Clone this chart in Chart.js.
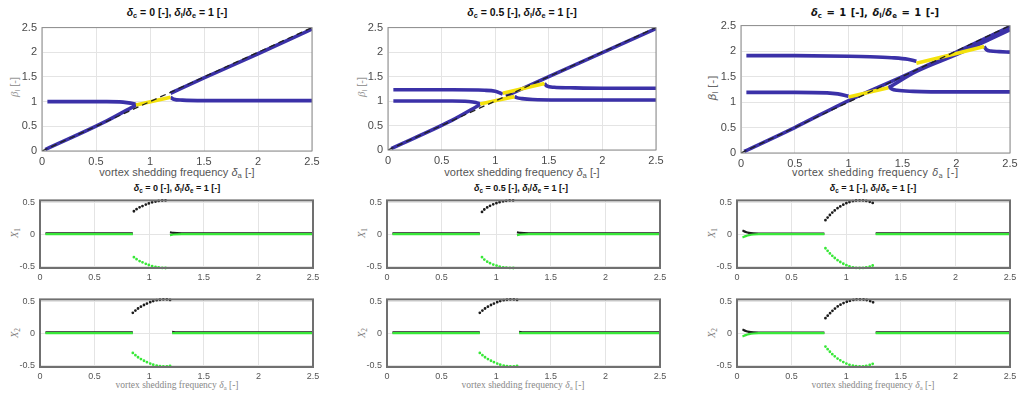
<!DOCTYPE html>
<html>
<head>
<meta charset="utf-8">
<script src="https://cdn.jsdelivr.net/npm/chart.js@4.4.0/dist/chart.umd.min.js"></script>
<style>
body { margin: 0; background: #fff; width: 1024px; height: 393px; position: relative; overflow: hidden; font-family: "Liberation Sans", Arial, sans-serif; }
canvas { position: absolute; }
.t { position: absolute; transform: translate(-50%, -50%); white-space: nowrap; }
.title { font-weight: bold; font-size: 10.5px; color: #111; }
.title2 { font-weight: bold; font-size: 9px; color: #111; }
.xlab { font-size: 11px; color: #555; }
.xlab2 { font-family: "Liberation Serif", serif; font-size: 9.5px; color: #888; }
.ylab { font-size: 11px; color: #999; transform: translate(-50%, -50%) rotate(-90deg); }
.ylab2 { font-family: "Liberation Serif", serif; font-size: 10.5px; color: #777; transform: translate(-50%, -50%) rotate(-90deg); }
sub { font-size: 70%; vertical-align: -0.3em; line-height: 0; }
</style>
</head>
<body>

<div class="t title" style="left:177px;top:12px"><i>δ</i><sub>c</sub> = 0 [-], <i>δ</i><sub>l</sub>/<i>δ</i><sub>e</sub> = 1 [-]</div>
<div class="t title" style="left:522px;top:12px"><i>δ</i><sub>c</sub> = 0.5 [-], <i>δ</i><sub>l</sub>/<i>δ</i><sub>e</sub> = 1 [-]</div>
<div class="t title" style="left:875px;top:12px;font-family:'DejaVu Sans';font-size:10px;word-spacing:1px"><i>δ</i><sub>c</sub> = 1 [-], <i>δ</i><sub>l</sub>/<i>δ</i><sub>e</sub> = 1 [-]</div>

<div class="t xlab" style="left:177px;top:172px">vortex shedding frequency <i>δ</i><sub>a</sub> [-]</div>
<div class="t xlab" style="left:522px;top:172px">vortex shedding frequency <i>δ</i><sub>a</sub> [-]</div>
<div class="t xlab" style="left:875px;top:172px;font-family:'DejaVu Sans';font-size:10px;word-spacing:1px">vortex shedding frequency <i>δ</i><sub>a</sub> [-]</div>

<div class="t ylab" style="left:14px;top:87px"><i style="font-family:'Liberation Serif'">β</i><sub>l</sub> [-]</div>
<div class="t ylab" style="left:361px;top:87px"><i style="font-family:'Liberation Serif'">β</i><sub>l</sub> [-]</div>
<div class="t ylab" style="left:712px;top:88px;color:#666;font-family:'DejaVu Sans'"><i>β</i><sub>l</sub> [-]</div>

<div class="t title2" style="left:177px;top:188px"><i>δ</i><sub>c</sub> = 0 [-], <i>δ</i><sub>l</sub>/<i>δ</i><sub>e</sub> = 1 [-]</div>
<div class="t title2" style="left:521px;top:188px"><i>δ</i><sub>c</sub> = 0.5 [-], <i>δ</i><sub>l</sub>/<i>δ</i><sub>e</sub> = 1 [-]</div>
<div class="t title2" style="left:873px;top:188px"><i>δ</i><sub>c</sub> = 1 [-], <i>δ</i><sub>l</sub>/<i>δ</i><sub>e</sub> = 1 [-]</div>

<div class="t ylab2" style="left:14px;top:233px"><i>X</i><sub>1</sub></div>
<div class="t ylab2" style="left:14px;top:333px"><i>X</i><sub>2</sub></div>
<div class="t ylab2" style="left:361px;top:233px"><i>X</i><sub>1</sub></div>
<div class="t ylab2" style="left:361px;top:333px"><i>X</i><sub>2</sub></div>
<div class="t ylab2" style="left:711px;top:233px"><i>X</i><sub>1</sub></div>
<div class="t ylab2" style="left:711px;top:333px"><i>X</i><sub>2</sub></div>

<div class="t xlab2" style="left:177px;top:385px">vortex shedding frequency <i>δ</i><sub>a</sub> [-]</div>
<div class="t xlab2" style="left:523px;top:385px">vortex shedding frequency <i>δ</i><sub>a</sub> [-]</div>
<div class="t xlab2" style="left:873px;top:385px">vortex shedding frequency <i>δ</i><sub>a</sub> [-]</div>

<script>
// tick values
const xTicks = [0, 0.5, 1, 1.5, 2, 2.5];
const betaTicks = [0, 0.5, 1, 1.5, 2, 2.5];
const ampTicks = [-0.5, 0, 0.5];

// reference line beta = delta_a (dashed)
const idealX = [0, 2.5];
const idealY = [0, 2.5];

// ---- delta_c = 0 : frequency branches
const c0DiagLowX = [0.03, 0.6, 0.87];
const c0DiagLowY = [0.03, 0.61, 0.93];
const c0FlatLX = [0.05, 0.6, 0.75, 0.82, 0.86, 0.87];
const c0FlatLY = [1.0, 1.0, 0.99, 0.97, 0.95, 0.93];
const c0LockX = [0.87, 1.19];
const c0LockY = [0.93, 1.09];
const c0DiagHiX = [1.19, 1.5, 2.0, 2.5];
const c0DiagHiY = [1.17, 1.48, 1.97, 2.47];
const c0FlatRX = [1.19, 1.22, 1.3, 1.5, 2.0, 2.5];
const c0FlatRY = [1.09, 1.05, 1.03, 1.02, 1.02, 1.02];

// ---- delta_c = 0.5
const c5DiagLowX = [0.03, 0.6, 0.86];
const c5DiagLowY = [0.03, 0.61, 0.93];
const c5FlatAX = [0.05, 0.6, 0.75, 0.82, 0.86];
const c5FlatAY = [1.0, 1.0, 0.99, 0.97, 0.94];
const c5FlatBX = [0.05, 0.6, 0.9, 1.0, 1.04, 1.07];
const c5FlatBY = [1.23, 1.23, 1.22, 1.2, 1.17, 1.14];
const c5LockAX = [0.86, 1.18];
const c5LockAY = [0.94, 1.09];
const c5LockBX = [1.07, 1.46];
const c5LockBY = [1.16, 1.36];
const c5DiagHiX = [1.1, 1.5, 2.0, 2.5];
const c5DiagHiY = [1.1, 1.5, 1.99, 2.48];
const c5LowRX = [1.18, 1.2, 1.25, 1.35, 1.6, 2.5];
const c5LowRY = [1.09, 1.07, 1.05, 1.03, 1.02, 1.02];
const c5HiRX = [1.46, 1.48, 1.55, 1.7, 2.0, 2.5];
const c5HiRY = [1.36, 1.31, 1.28, 1.27, 1.26, 1.26];

// ---- delta_c = 1
const c1DiagX = [0.03, 0.5, 1.0, 1.5, 2.0, 2.5];
const c1DiagY = [0.03, 0.5, 1.03, 1.5, 1.98, 2.48];
const c1Diag2X = [1.37, 1.63, 2.0, 2.3, 2.5];
const c1Diag2Y = [1.28, 1.6, 1.93, 2.22, 2.42];
const c1LowLX = [0.05, 0.5, 0.8, 0.9, 0.97, 1.0];
const c1LowLY = [1.19, 1.19, 1.18, 1.16, 1.13, 1.11];
const c1Lock1X = [1.0, 1.37];
const c1Lock1Y = [1.1, 1.28];
const c1LowRX = [1.37, 1.4, 1.45, 1.6, 2.0, 2.5];
const c1LowRY = [1.31, 1.26, 1.23, 1.21, 1.2, 1.2];
const c1HiLX = [0.05, 0.5, 1.0, 1.2, 1.4, 1.55, 1.63];
const c1HiLY = [1.91, 1.91, 1.9, 1.89, 1.87, 1.84, 1.8];
const c1Lock2X = [1.63, 2.26];
const c1Lock2Y = [1.76, 2.09];
const c1HiRX = [2.26, 2.28, 2.32, 2.4, 2.5];
const c1HiRY = [2.09, 2.03, 2.0, 1.99, 1.98];

// ---- amplitudes, delta_c = 0
const a0LeftX = [0.05, 0.85];
const a0LeftBlack = [0.012, 0.012];
const a0LeftGreen = [0.0, 0.0];
const a0X1ArcX = [0.86, 0.9, 0.95, 1.0, 1.05, 1.1, 1.15, 1.18];
const a0X1ArcBlack = [0.36, 0.41, 0.45, 0.485, 0.51, 0.525, 0.53, 0.525];
const a0X1ArcGreen = [-0.36, -0.41, -0.45, -0.485, -0.51, -0.525, -0.53, -0.525];
const a0X1RightX = [1.19, 1.22, 1.3, 2.5];
const a0X1RightBlack = [0.03, 0.02, 0.014, 0.012];
const a0X1RightGreen = [-0.015, -0.005, 0.0, 0.0];
const a0X2ArcX = [0.85, 0.9, 0.95, 1.0, 1.05, 1.1, 1.15, 1.2];
const a0X2ArcBlack = [0.32, 0.39, 0.44, 0.48, 0.51, 0.525, 0.53, 0.52];
const a0X2ArcGreen = [-0.31, -0.38, -0.43, -0.47, -0.5, -0.515, -0.52, -0.51];
const a0X2RightX = [1.21, 1.25, 2.5];
const a0X2RightBlack = [0.02, 0.014, 0.012];
const a0X2RightGreen = [0.0, 0.0, 0.0];

// ---- amplitudes, delta_c = 0.5
const a5X1ArcX = [0.87, 0.9, 0.95, 1.0, 1.05, 1.1, 1.15, 1.18];
const a5X1ArcBlack = [0.35, 0.4, 0.45, 0.485, 0.51, 0.525, 0.53, 0.525];
const a5X1ArcGreen = [-0.36, -0.41, -0.46, -0.49, -0.515, -0.525, -0.53, -0.525];

// ---- amplitudes, delta_c = 1
const a1LeftX = [0.05, 0.08, 0.11, 0.15, 0.2, 0.8];
const a1LeftBlack = [0.06, 0.035, 0.02, 0.012, 0.01, 0.01];
const a1LeftGreen = [-0.05, -0.03, -0.015, -0.005, 0.0, 0.0];
const a1ArcX = [0.81, 0.85, 0.9, 0.95, 1.0, 1.05, 1.1, 1.15, 1.2, 1.26];
const a1X1ArcBlack = [0.22, 0.3, 0.38, 0.44, 0.485, 0.515, 0.53, 0.53, 0.515, 0.48];
const a1X1ArcGreen = [-0.22, -0.3, -0.38, -0.44, -0.485, -0.515, -0.53, -0.53, -0.515, -0.48];
const a1X2ArcBlack = [0.235, 0.31, 0.39, 0.45, 0.49, 0.515, 0.53, 0.53, 0.515, 0.475];
const a1X2ArcGreen = [-0.21, -0.29, -0.37, -0.43, -0.475, -0.505, -0.52, -0.52, -0.505, -0.47];
const a1RightX = [1.27, 2.5];
const a1RightBlack = [0.012, 0.012];
const a1RightGreen = [0.0, 0.0];

const BLUE = '#3b31a8';
const YELLOW = '#f4e20c';
const GREEN = '#38e838';
const BLACK = '#1c1c1c';

function pts(xs, ys) {
    return xs.map((x, i) => ({ x: x, y: ys[i] }))
}

function branch(xs, ys, color) {
    return { data: pts(xs, ys), borderColor: color, borderWidth: 3.6, pointRadius: 0,
             showLine: true, cubicInterpolationMode: 'monotone' }
}

function ideal() {
    return { data: pts(idealX, idealY), borderColor: '#222', borderWidth: 1.3,
             borderDash: [6, 4], pointRadius: 0, showLine: true }
}

function flat(xs, ys, color) {
    return { data: pts(xs, ys), borderColor: color, borderWidth: 2.2, pointRadius: 0,
             showLine: true, cubicInterpolationMode: 'monotone' }
}

function dots(xs, ys, color) {
    return { data: pts(xs, ys), borderColor: color, borderWidth: 2.8, pointRadius: 0,
             showLine: true, borderDash: [0, 3.4], borderCapStyle: 'round', tension: 0.4, clip: 4 }
}

// draws the full box around the plot area
const frame = {
    id: 'frame',
    afterDatasetsDraw(chart, args, opts) {
        const a = chart.chartArea
        const ctx = chart.ctx
        ctx.save()
        ctx.strokeStyle = opts.color
        ctx.lineWidth = opts.width
        ctx.strokeRect(a.left, a.top, a.right - a.left, a.bottom - a.top)
        ctx.restore()
    }
}

function panel(rect, datasets, y, small) {
    const AXW = 30, PADT = 8, PADR = 12
    const AXH = small ? 18 : 20
    const c = document.createElement('canvas')
    const w = rect.r - rect.l + AXW + PADR
    const h = rect.b - rect.t + PADT + AXH
    c.width = w
    c.height = h
    c.style.left = (rect.l - AXW) + 'px'
    c.style.top = (rect.t - PADT) + 'px'
    c.style.width = w + 'px'
    c.style.height = h + 'px'
    document.body.appendChild(c)
    const fs = small ? 9 : 11
    const tickColor = small ? '#555' : '#4a4a4a'
    const fmt = v => String(v)
    new Chart(c.getContext('2d'), {
        type: 'scatter',
        data: { datasets: datasets },
        plugins: [frame],
        options: {
            responsive: false,
            animation: false,
            devicePixelRatio: 1,
            layout: { padding: { top: PADT, right: PADR, left: 0, bottom: 0 } },
            plugins: {
                legend: { display: false },
                tooltip: { enabled: false },
                frame: { color: small ? '#707070' : '#8a8a8a', width: small ? 2 : 1 }
            },
            scales: {
                x: {
                    type: 'linear', min: 0, max: 2.5,
                    afterBuildTicks: s => { s.ticks = xTicks.map(v => ({ value: v })) },
                    afterFit: s => { s.height = AXH },
                    grid: { color: '#e4e4e4', drawTicks: false },
                    border: { display: false },
                    ticks: { color: tickColor, font: { size: fs, family: 'Liberation Sans' }, padding: 4, maxRotation: 0, callback: fmt }
                },
                y: {
                    type: 'linear', min: y.min, max: y.max,
                    afterBuildTicks: s => { s.ticks = y.ticks.map(v => ({ value: v })) },
                    afterFit: s => { s.width = AXW },
                    grid: { color: '#e4e4e4', drawTicks: false },
                    border: { display: false },
                    ticks: { color: tickColor, font: { size: fs, family: 'Liberation Sans' }, padding: 5, callback: fmt }
                }
            }
        }
    })
}

const betaAxis = { min: 0, max: 2.5, ticks: betaTicks }
const ampAxis = { min: -0.53, max: 0.53, ticks: ampTicks }

// top row: locked frequencies
panel({ l: 42, t: 24, r: 312, b: 151 }, [
    ideal(),
    branch(c0LockX, c0LockY, YELLOW),
    branch(c0DiagLowX, c0DiagLowY, BLUE),
    branch(c0FlatLX, c0FlatLY, BLUE),
    branch(c0DiagHiX, c0DiagHiY, BLUE),
    branch(c0FlatRX, c0FlatRY, BLUE)
], betaAxis, false)

panel({ l: 388, t: 24, r: 656, b: 150 }, [
    ideal(),
    branch(c5LockAX, c5LockAY, YELLOW),
    branch(c5LockBX, c5LockBY, YELLOW),
    branch(c5DiagLowX, c5DiagLowY, BLUE),
    branch(c5FlatAX, c5FlatAY, BLUE),
    branch(c5FlatBX, c5FlatBY, BLUE),
    branch(c5DiagHiX, c5DiagHiY, BLUE),
    branch(c5LowRX, c5LowRY, BLUE),
    branch(c5HiRX, c5HiRY, BLUE)
], betaAxis, false)

panel({ l: 741, t: 22, r: 1010, b: 153 }, [
    ideal(),
    branch(c1Lock1X, c1Lock1Y, YELLOW),
    branch(c1Lock2X, c1Lock2Y, YELLOW),
    branch(c1DiagX, c1DiagY, BLUE),
    branch(c1Diag2X, c1Diag2Y, BLUE),
    branch(c1LowLX, c1LowLY, BLUE),
    branch(c1LowRX, c1LowRY, BLUE),
    branch(c1HiLX, c1HiLY, BLUE),
    branch(c1HiRX, c1HiRY, BLUE)
], betaAxis, false)

// amplitude panels
panel({ l: 40, t: 198, r: 313, b: 268 }, [
    flat(a0LeftX, a0LeftGreen, GREEN),
    flat(a0X1RightX, a0X1RightGreen, GREEN),
    dots(a0X1ArcX, a0X1ArcGreen, GREEN),
    flat(a0LeftX, a0LeftBlack, BLACK),
    flat(a0X1RightX, a0X1RightBlack, BLACK),
    dots(a0X1ArcX, a0X1ArcBlack, BLACK)
], ampAxis, true)

panel({ l: 40, t: 297, r: 313, b: 367 }, [
    flat(a0LeftX, a0LeftGreen, GREEN),
    flat(a0X2RightX, a0X2RightGreen, GREEN),
    dots(a0X2ArcX, a0X2ArcGreen, GREEN),
    flat(a0LeftX, a0LeftBlack, BLACK),
    flat(a0X2RightX, a0X2RightBlack, BLACK),
    dots(a0X2ArcX, a0X2ArcBlack, BLACK)
], ampAxis, true)

panel({ l: 387, t: 198, r: 660, b: 268 }, [
    flat(a0LeftX, a0LeftGreen, GREEN),
    flat(a0X1RightX, a0X1RightGreen, GREEN),
    dots(a5X1ArcX, a5X1ArcGreen, GREEN),
    flat(a0LeftX, a0LeftBlack, BLACK),
    flat(a0X1RightX, a0X1RightBlack, BLACK),
    dots(a5X1ArcX, a5X1ArcBlack, BLACK)
], ampAxis, true)

panel({ l: 387, t: 297, r: 660, b: 367 }, [
    flat(a0LeftX, a0LeftGreen, GREEN),
    flat(a0X2RightX, a0X2RightGreen, GREEN),
    dots(a0X2ArcX, a0X2ArcGreen, GREEN),
    flat(a0LeftX, a0LeftBlack, BLACK),
    flat(a0X2RightX, a0X2RightBlack, BLACK),
    dots(a0X2ArcX, a0X2ArcBlack, BLACK)
], ampAxis, true)

panel({ l: 737, t: 198, r: 1010, b: 268 }, [
    flat(a1LeftX, a1LeftGreen, GREEN),
    flat(a1RightX, a1RightGreen, GREEN),
    dots(a1ArcX, a1X1ArcGreen, GREEN),
    flat(a1LeftX, a1LeftBlack, BLACK),
    flat(a1RightX, a1RightBlack, BLACK),
    dots(a1ArcX, a1X1ArcBlack, BLACK)
], ampAxis, true)

panel({ l: 737, t: 297, r: 1010, b: 367 }, [
    flat(a1LeftX, a1LeftGreen, GREEN),
    flat(a1RightX, a1RightGreen, GREEN),
    dots(a1ArcX, a1X2ArcGreen, GREEN),
    flat(a1LeftX, a1LeftBlack, BLACK),
    flat(a1RightX, a1RightBlack, BLACK),
    dots(a1ArcX, a1X2ArcBlack, BLACK)
], ampAxis, true)
</script>
</body>
</html>
